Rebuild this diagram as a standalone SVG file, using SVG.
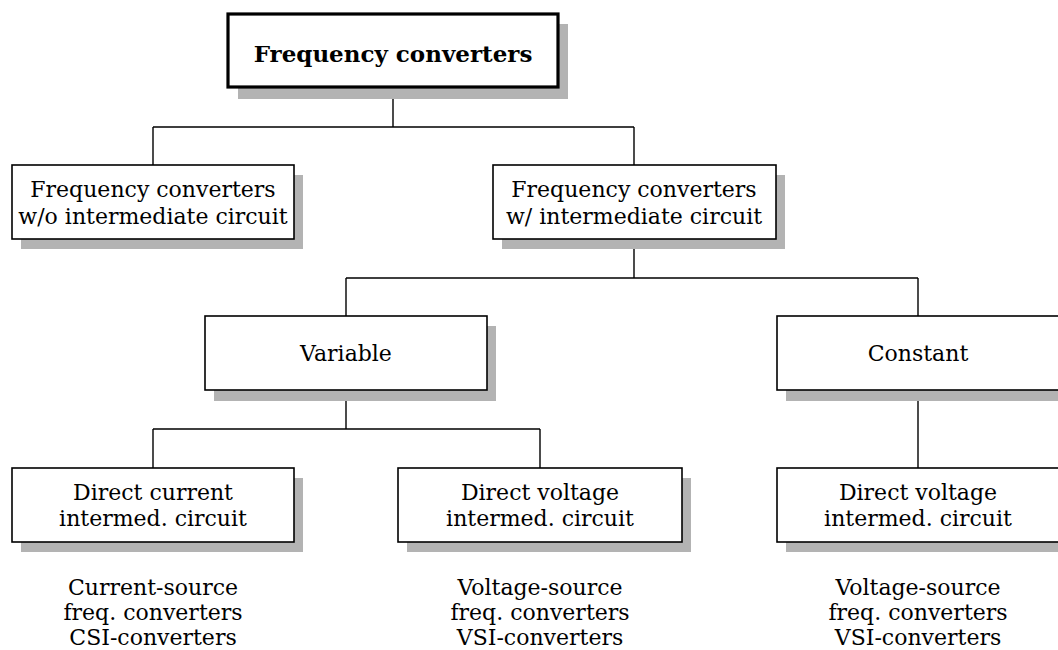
<svg xmlns="http://www.w3.org/2000/svg" width="1058" height="650" viewBox="0 0 1058 650">
<style>
.sh{fill:#b3b3b3}
.bx{fill:#fff;stroke:#000;stroke-width:1.6}
.bxt{fill:#fff;stroke:#000;stroke-width:3.2}
.t{font-family:"DejaVu Serif","Liberation Serif",serif;font-size:22px;fill:#000;text-anchor:middle}
.tb{font-weight:bold;font-size:23px}
.c{stroke:#000;stroke-width:1.4;fill:none}
</style>
<rect width="1058" height="650" fill="#fff"/>
<g id="connectors">
<path class="c" d="M393 87V127M153 127H634M153 127V165M634 127V165M634 239V278M346 278H918M346 278V316M918 278V316M346 390V429M153 429H540M153 429V468M540 429V468M918 390V468"/>
</g>
<g id="root">
<rect class="sh" x="238" y="24" width="330" height="75"/>
<rect class="bxt" x="228" y="14" width="330" height="73"/>
<text class="t tb" x="393" y="62">Frequency converters</text>
</g>
<g id="wo">
<rect class="sh" x="21" y="175" width="282" height="74"/>
<rect class="bx" x="12" y="165" width="282" height="74"/>
<text class="t" x="153" y="197">Frequency converters</text>
<text class="t" x="153" y="224">w/o intermediate circuit</text>
</g>
<g id="w">
<rect class="sh" x="502" y="175" width="283" height="74"/>
<rect class="bx" x="493" y="165" width="283" height="74"/>
<text class="t" x="634" y="197">Frequency converters</text>
<text class="t" x="634" y="224">w/ intermediate circuit</text>
</g>
<g id="variable">
<rect class="sh" x="214" y="326" width="282" height="75"/>
<rect class="bx" x="205" y="316" width="282" height="74"/>
<text class="t" x="346" y="361">Variable</text>
</g>
<g id="constant">
<rect class="sh" x="786" y="326" width="282" height="75"/>
<rect class="bx" x="777" y="316" width="282" height="74"/>
<text class="t" x="918" y="361">Constant</text>
</g>
<g id="dci">
<rect class="sh" x="21" y="478" width="282" height="74"/>
<rect class="bx" x="12" y="468" width="282" height="74"/>
<text class="t" x="153" y="500">Direct current</text>
<text class="t" x="153" y="526">intermed. circuit</text>
</g>
<g id="dvi1">
<rect class="sh" x="407" y="478" width="284" height="74"/>
<rect class="bx" x="398" y="468" width="284" height="74"/>
<text class="t" x="540" y="500">Direct voltage</text>
<text class="t" x="540" y="526">intermed. circuit</text>
</g>
<g id="dvi2">
<rect class="sh" x="786" y="478" width="282" height="74"/>
<rect class="bx" x="777" y="468" width="282" height="74"/>
<text class="t" x="918" y="500">Direct voltage</text>
<text class="t" x="918" y="526">intermed. circuit</text>
</g>
<g id="csi">
<text class="t" x="153" y="595">Current-source</text>
<text class="t" x="153" y="620">freq. converters</text>
<text class="t" x="153" y="645">CSI-converters</text>
</g>
<g id="vsi1">
<text class="t" x="540" y="595">Voltage-source</text>
<text class="t" x="540" y="620">freq. converters</text>
<text class="t" x="540" y="645">VSI-converters</text>
</g>
<g id="vsi2">
<text class="t" x="918" y="595">Voltage-source</text>
<text class="t" x="918" y="620">freq. converters</text>
<text class="t" x="918" y="645">VSI-converters</text>
</g>
</svg>
